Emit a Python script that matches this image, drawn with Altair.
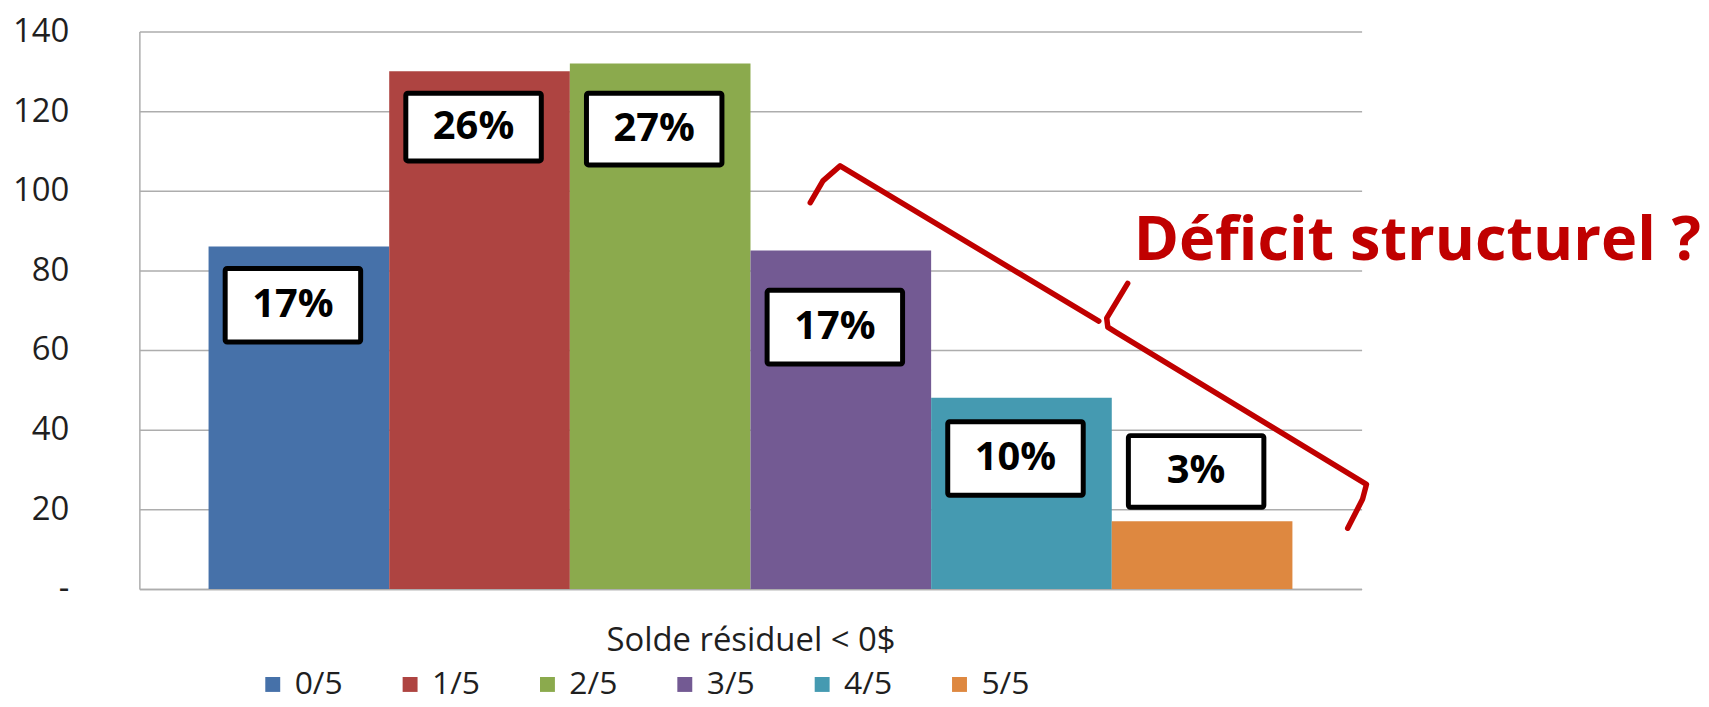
import altair as alt
import pandas as pd

# ---- data ----
series = ["0/5", "1/5", "2/5", "3/5", "4/5", "5/5"]
counts = [86, 130, 132, 85, 48, 17]
shares = ["17%", "26%", "27%", "17%", "10%", "3%"]
# label box extents (value units)
box_top = [80.5, 124.5, 124.5, 75, 42, 38.5]
box_bottom = [62, 107.5, 106.5, 56.5, 23.5, 20.5]
colors = ["#4671A9", "#AE4441", "#8BAA4D", "#735A93", "#459AB1", "#DE8840"]
y_ticks = [0, 20, 40, 60, 80, 100, 120, 140]

# bracket annotation in (bar-slot units, value units)
bracket_part = ["a", "a", "a", "a", "b", "b", "b", "b", "b", "b", "b"]
bracket_x = [3.714, 3.784, 3.879, 5.311, 5.471, 5.355, 5.361, 5.405, 6.793, 6.771, 6.689]
bracket_y = [97.0, 102.5, 106.25, 67.25, 76.75, 68.0, 65.75, 64.5, 26.25, 22.5, 15.25]
bracket_order = list(range(len(bracket_x)))

annotation = ["Déficit structurel ?"]
annotation_x = [5.504]
annotation_y = [82.5]

OUTER = 0.383
SLOTS = len(series) + 2 * OUTER

bars_df = pd.DataFrame({"serie": series, "count": counts, "share": shares,
                        "top": box_top, "bottom": box_bottom})
bracket_df = pd.DataFrame({"part": bracket_part, "bx": bracket_x,
                           "by": bracket_y, "ord": bracket_order})
annot_df = pd.DataFrame({"txt": annotation, "bx": annotation_x, "by": annotation_y})

FONT = "Open Sans"
GRID = "#ADADAD"
TXT = "#1F1F1F"
RED = "#C00000"

xband = alt.Scale(domain=series, paddingInner=0, paddingOuter=OUTER)
yscale = alt.Scale(domain=[0, 140], nice=False, zero=True)

x_axis = alt.Axis(labels=False, ticks=False, domainColor=GRID, domainWidth=1.5,
                  title="Solde résiduel < 0$", titleFont=FONT, titleFontSize=33,
                  titleFontWeight="normal", titleColor=TXT, titlePadding=36, grid=False)
y_axis = alt.Axis(values=y_ticks, title=None, ticks=False, labelPadding=71,
                  labelExpr="datum.value == 0 ? '-\u00a0\u00a0' : datum.label",
                  labelFont=FONT, labelFontSize=33, labelColor=TXT,
                  domainColor=GRID, domainWidth=1.5, gridColor=GRID, gridWidth=1.5)

bars = alt.Chart(bars_df).mark_bar().encode(
    x=alt.X("serie:N", scale=xband, sort=series, axis=x_axis),
    y=alt.Y("count:Q", scale=yscale, axis=y_axis),
    color=alt.Color("serie:N", scale=alt.Scale(domain=series, range=colors),
                    legend=alt.Legend(orient="none", legendX=118, legendY=640,
                                      direction="horizontal", title=None,
                                      symbolType="square", symbolSize=225, symbolStrokeWidth=0,
                                      labelFont=FONT, labelFontSize=32, labelColor=TXT,
                                      labelOffset=6, columnPadding=51)),
)

boxes = alt.Chart(bars_df).mark_bar(
    fill="white", stroke="black", strokeWidth=5, cornerRadius=2,
    width=alt.RelativeBandSize(band=0.75), xOffset=-6
).encode(
    x=alt.X("serie:N", scale=xband, sort=series, axis=x_axis),
    y=alt.Y("top:Q", scale=yscale, axis=y_axis),
    y2="bottom:Q",
)

labels = alt.Chart(bars_df).transform_calculate(
    mid="(datum.top + datum.bottom) / 2"
).mark_text(font=FONT, fontSize=40, fontWeight="bold", color="black",
            baseline="middle", align="center", xOffset=-6).encode(
    x=alt.X("serie:N", scale=xband, sort=series, axis=x_axis),
    y=alt.Y("mid:Q", scale=yscale, axis=y_axis),
    text="share:N",
)

main = alt.layer(bars, boxes, labels)

xq = alt.Scale(domain=[0, SLOTS], nice=False, zero=False)

bracket = alt.Chart(bracket_df).mark_line(
    color=RED, strokeWidth=5.5, strokeCap="round", strokeJoin="round"
).encode(
    x=alt.X("bx:Q", scale=xq, axis=None),
    y=alt.Y("by:Q", scale=yscale, axis=y_axis),
    detail="part:N",
    order="ord:Q",
)

deficit = alt.Chart(annot_df).mark_text(
    font=FONT, fontSize=61.5, fontWeight="bold", color=RED,
    align="left", baseline="alphabetic"
).encode(
    x=alt.X("bx:Q", scale=xq, axis=None),
    y=alt.Y("by:Q", scale=yscale, axis=y_axis),
    text="txt:N",
)

annot = alt.layer(bracket, deficit)

chart = alt.layer(main, annot).resolve_scale(x="independent").properties(
    width=1228, height=560,
    padding={"left": 132, "top": 22, "right": 341, "bottom": 117},
    autosize=alt.AutoSizeParams(type="none"),
    background="white",
).configure_view(stroke=None)

chart.save("out.html", embed_options={"renderer": "svg", "actions": False})
